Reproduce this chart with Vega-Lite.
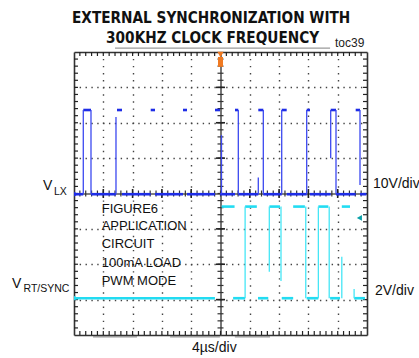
{
  "$schema": "https://vega.github.io/schema/vega-lite/v6.json",
  "width": 293,
  "height": 283,
  "autosize": {"type": "none"},
  "padding": {"left": 74, "top": 52, "right": 52, "bottom": 23},
  "background": "white",
  "config": {
    "view": {"stroke": null},
    "axis": {"labels": false, "title": null, "grid": false, "domain": false, "ticks": false}
  },
  "datasets": {
    "blueH": [
      {"x1": 0, "x2": 1.585, "y": 19.9}, {"x1": 2.9, "x2": 7.165, "y": 19.9}, {"x1": 8.19, "x2": 13.09, "y": 19.9},
      {"x1": 13.825, "x2": 18.6, "y": 19.9}, {"x1": 19.285, "x2": 24.06, "y": 19.9}, {"x1": 24.915, "x2": 27.475, "y": 19.9},
      {"x1": 28.04, "x2": 31.45, "y": 19.9}, {"x1": 32.305, "x2": 35.445, "y": 19.9}, {"x1": 36.295, "x2": 39.71, "y": 19.9},
      {"x1": 40.275, "x2": 43.805, "y": 19.9}, {"x1": 44.71, "x2": 48.07, "y": 19.9}, {"x1": 48.805, "x2": 49.9, "y": 19.9},
      {"x1": 1.585, "x2": 2.9, "y": 31.8}, {"x1": 7.34, "x2": 8.19, "y": 31.8}, {"x1": 13.09, "x2": 13.825, "y": 31.8},
      {"x1": 18.6, "x2": 19.285, "y": 31.8}, {"x1": 24.06, "x2": 24.915, "y": 31.8}, {"x1": 27.475, "x2": 28.04, "y": 31.8},
      {"x1": 31.45, "x2": 32.305, "y": 31.8}, {"x1": 35.445, "x2": 36.295, "y": 31.8}, {"x1": 39.71, "x2": 40.275, "y": 31.8},
      {"x1": 43.805, "x2": 44.71, "y": 31.8}, {"x1": 48.07, "x2": 48.805, "y": 31.8}
    ],
    "blueV": [
      {"x": 1.585, "y1": 19.9, "y2": 31.8}, {"x": 2.9, "y1": 31.8, "y2": 19.9}, {"x": 7.165, "y1": 19.9, "y2": 30.8},
      {"x": 25.17, "y1": 19.9, "y2": 28.25}, {"x": 28.04, "y1": 31.8, "y2": 19.9}, {"x": 31.45, "y1": 19.9, "y2": 22.25},
      {"x": 32.305, "y1": 31.8, "y2": 19.9}, {"x": 35.445, "y1": 19.9, "y2": 31.8}, {"x": 39.71, "y1": 19.9, "y2": 31.8},
      {"x": 43.805, "y1": 25, "y2": 31.8}, {"x": 44.71, "y1": 31.8, "y2": 19.9}, {"x": 48.805, "y1": 31.8, "y2": 21.2}
    ],
    "cyanH": [
      {"x1": 0.15, "x2": 24.05, "y": 5.2}, {"x1": 27.15, "x2": 29.2, "y": 5.2}, {"x1": 31.4, "x2": 33.15, "y": 5.2},
      {"x1": 35.45, "x2": 37.4, "y": 5.2}, {"x1": 39.7, "x2": 41.7, "y": 5.2}, {"x1": 43.7, "x2": 45.4, "y": 5.2},
      {"x1": 47.8, "x2": 49.65, "y": 5.2},
      {"x1": 25.2, "x2": 27.4, "y": 18.15}, {"x1": 29.2, "x2": 31.2, "y": 18.15}, {"x1": 33.35, "x2": 35.15, "y": 18.15},
      {"x1": 37.4, "x2": 39.4, "y": 18.15}, {"x1": 41.7, "x2": 43.4, "y": 18.15}, {"x1": 45.7, "x2": 47.1, "y": 18.15}
    ],
    "cyanV": [
      {"x": 29.2, "y1": 5.2, "y2": 18.15}, {"x": 33.33, "y1": 8.95, "y2": 18.15}, {"x": 35.325, "y1": 18.15, "y2": 7.65},
      {"x": 39.55, "y1": 18.15, "y2": 5.2}, {"x": 41.7, "y1": 5.2, "y2": 18.15}, {"x": 43.55, "y1": 18.15, "y2": 5.2},
      {"x": 45.7, "y1": 5.2, "y2": 11.05}, {"x": 47.8, "y1": 6.5, "y2": 5.2}
    ],
    "xt": [
      {"v": 1}, {"v": 2}, {"v": 3}, {"v": 4}, {"v": 5}, {"v": 6}, {"v": 7}, {"v": 8}, {"v": 9}, {"v": 10},
      {"v": 11}, {"v": 12}, {"v": 13}, {"v": 14}, {"v": 15}, {"v": 16}, {"v": 17}, {"v": 18}, {"v": 19}, {"v": 20},
      {"v": 21}, {"v": 22}, {"v": 23}, {"v": 24}, {"v": 25}, {"v": 26}, {"v": 27}, {"v": 28}, {"v": 29}, {"v": 30},
      {"v": 31}, {"v": 32}, {"v": 33}, {"v": 34}, {"v": 35}, {"v": 36}, {"v": 37}, {"v": 38}, {"v": 39}, {"v": 40},
      {"v": 41}, {"v": 42}, {"v": 43}, {"v": 44}, {"v": 45}, {"v": 46}, {"v": 47}, {"v": 48}, {"v": 49}
    ],
    "yt": [
      {"v": 1}, {"v": 2}, {"v": 3}, {"v": 4}, {"v": 5}, {"v": 6}, {"v": 7}, {"v": 8}, {"v": 9}, {"v": 10},
      {"v": 11}, {"v": 12}, {"v": 13}, {"v": 14}, {"v": 15}, {"v": 16}, {"v": 17}, {"v": 18}, {"v": 19}, {"v": 20},
      {"v": 21}, {"v": 22}, {"v": 23}, {"v": 24}, {"v": 25}, {"v": 26}, {"v": 27}, {"v": 28}, {"v": 29}, {"v": 30},
      {"v": 31}, {"v": 32}, {"v": 33}, {"v": 34}, {"v": 35}, {"v": 36}, {"v": 37}, {"v": 38}, {"v": 39}
    ],
    "xmaj": [{"v": 5}, {"v": 10}, {"v": 15}, {"v": 20}, {"v": 30}, {"v": 35}, {"v": 40}, {"v": 45}],
    "ymaj": [{"v": 5}, {"v": 10}, {"v": 15}, {"v": 25}, {"v": 30}, {"v": 35}],
    "artifacts": [
      {"x1": 7, "x2": 43.7, "y": 40.55},
      {"x1": 3.25, "x2": 10.75, "y": -0.25},
      {"x1": 16.4, "x2": 24.9, "y": -0.25},
      {"x1": 27.45, "x2": 33.45, "y": -0.25}
    ],
    "title": [
      {"x": 23.4, "y": 44.15, "t": "EXTERNAL SYNCHRONIZATION WITH"},
      {"x": 23.65, "y": 41.25, "t": "300KHZ CLOCK FREQUENCY"}
    ],
    "big": [
      {"x": -5.29, "y": 20.5, "t": "V"},
      {"x": -10.58, "y": 6.6, "t": "V"},
      {"x": 51.025, "y": 20.735, "t": "10V/div"},
      {"x": 51.365, "y": 5.655, "t": "2V/div"},
      {"x": 20.135, "y": -2.45, "t": "4µs/div"}
    ],
    "sub": [
      {"x": -3.415, "y": 19.8, "t": "LX"},
      {"x": -8.62, "y": 6.05, "t": "RT/SYNC"}
    ],
    "toc": [{"x": 44.54, "y": 40.65, "t": "toc39"}],
    "note": [
      {"x": 4.725, "y": 17.285, "t": "FIGURE6"},
      {"x": 4.725, "y": 14.84, "t": "APPLICATION"},
      {"x": 4.725, "y": 12.25, "t": "CIRCUIT"},
      {"x": 4.725, "y": 9.65, "t": "100mA LOAD"},
      {"x": 4.725, "y": 7.065, "t": "PWM MODE"}
    ],
    "trig": [{"x": 25, "y": 39.65, "y1": 39.3, "y2": 37.9}],
    "blueMark": [{"x": 0.35, "y": 19.9}],
    "cyanMark": [{"x": 0.35, "y": 5.2}],
    "tealMark": [{"x": 48.7, "y": 16.55}]
  },
  "layer": [
    {
      "data": {"name": "artifacts"},
      "mark": {"type": "rule", "color": "#9a9a9a", "strokeWidth": 1.4},
      "encoding": {
        "x": {"field": "x1", "type": "quantitative", "scale": {"domain": [0, 50], "nice": false, "zero": false},
          "axis": {"orient": "bottom", "grid": true, "gridColor": "#444", "gridWidth": 1.4, "gridDash": [1.4, 5.675], "gridDashOffset": 0.7, "values": [5,10,15,20,30,35,40,45]}},
        "x2": {"field": "x2"},
        "y": {"field": "y", "type": "quantitative", "scale": {"domain": [0, 40], "nice": false, "zero": false},
          "axis": {"orient": "left", "grid": true, "gridColor": "#444", "gridWidth": 1.4, "gridDash": [1.4, 4.46], "gridDashOffset": 0.7, "values": [5,10,15,25,30,35]}}
      }
    },
    {
      "data": {"name": "xt"},
      "mark": {"type": "tick", "orient": "vertical", "size": 4, "thickness": 1.2, "color": "#222", "opacity": 1},
      "encoding": {
        "x": {"field": "v", "type": "quantitative", "axis": null},
        "y": {"datum": 0.28}
      }
    },
    {
      "data": {"name": "xt"},
      "mark": {"type": "tick", "orient": "vertical", "size": 4, "thickness": 1.2, "color": "#222", "opacity": 1},
      "encoding": {
        "x": {"field": "v", "type": "quantitative", "axis": null},
        "y": {"datum": 39.72}
      }
    },
    {
      "data": {"name": "xt"},
      "mark": {"type": "tick", "orient": "vertical", "size": 6, "thickness": 1.2, "color": "#333", "opacity": 1},
      "encoding": {
        "x": {"field": "v", "type": "quantitative", "axis": null},
        "y": {"datum": 20}
      }
    },
    {
      "data": {"name": "xmaj"},
      "mark": {"type": "tick", "orient": "vertical", "size": 9, "thickness": 1.6, "color": "#222", "opacity": 1},
      "encoding": {
        "x": {"field": "v", "type": "quantitative", "axis": null},
        "y": {"datum": 20}
      }
    },
    {
      "data": {"name": "yt"},
      "mark": {"type": "tick", "orient": "horizontal", "size": 4, "thickness": 1.2, "color": "#222", "opacity": 1},
      "encoding": {
        "y": {"field": "v", "type": "quantitative", "axis": null},
        "x": {"datum": 0.34}
      }
    },
    {
      "data": {"name": "yt"},
      "mark": {"type": "tick", "orient": "horizontal", "size": 4, "thickness": 1.2, "color": "#222", "opacity": 1},
      "encoding": {
        "y": {"field": "v", "type": "quantitative", "axis": null},
        "x": {"datum": 49.66}
      }
    },
    {
      "data": {"name": "yt"},
      "mark": {"type": "tick", "orient": "horizontal", "size": 6, "thickness": 1.2, "color": "#333", "opacity": 1},
      "encoding": {
        "y": {"field": "v", "type": "quantitative", "axis": null},
        "x": {"datum": 25}
      }
    },
    {
      "data": {"name": "ymaj"},
      "mark": {"type": "tick", "orient": "horizontal", "size": 9, "thickness": 1.6, "color": "#222", "opacity": 1},
      "encoding": {
        "y": {"field": "v", "type": "quantitative", "axis": null},
        "x": {"datum": 25}
      }
    },
    {
      "data": {"name": "blueH"},
      "mark": {"type": "rule", "color": "#1e2de6", "strokeWidth": 2.6},
      "encoding": {
        "x": {"field": "x1", "type": "quantitative",
          "axis": {"orient": "bottom", "domain": true, "domainColor": "#333", "domainWidth": 1.6}},
        "x2": {"field": "x2"},
        "y": {"field": "y", "type": "quantitative",
          "axis": {"orient": "left", "domain": true, "domainColor": "#333", "domainWidth": 1.6}}
      }
    },
    {
      "data": {"name": "blueV"},
      "mark": {"type": "rule", "color": "#3b48f0", "strokeWidth": 1.3},
      "encoding": {
        "x": {"field": "x", "type": "quantitative",
          "axis": {"orient": "top", "domain": true, "domainColor": "#333", "domainWidth": 1.6}},
        "y": {"field": "y1", "type": "quantitative",
          "axis": {"orient": "right", "domain": true, "domainColor": "#333", "domainWidth": 1.6}},
        "y2": {"field": "y2"}
      }
    },
    {
      "data": {"name": "cyanH"},
      "mark": {"type": "rule", "color": "#22dcf2", "strokeWidth": 2.6},
      "encoding": {
        "x": {"field": "x1", "type": "quantitative",
          "axis": {"orient": "bottom", "offset": -141.5, "domain": true, "domainColor": "#555", "domainWidth": 1.6}},
        "x2": {"field": "x2"},
        "y": {"field": "y", "type": "quantitative",
          "axis": {"orient": "left", "offset": -146.5, "domain": true, "domainColor": "#555", "domainWidth": 1.6}}
      }
    },
    {
      "data": {"name": "cyanV"},
      "mark": {"type": "rule", "color": "#45e6f6", "strokeWidth": 1.3},
      "encoding": {
        "x": {"field": "x", "type": "quantitative", "axis": null},
        "y": {"field": "y1", "type": "quantitative", "axis": null},
        "y2": {"field": "y2"}
      }
    },
    {
      "data": {"name": "trig"},
      "mark": {"type": "rule", "color": "#f07a22", "strokeWidth": 5},
      "encoding": {
        "x": {"field": "x", "type": "quantitative", "axis": null},
        "y": {"field": "y1", "type": "quantitative", "axis": null},
        "y2": {"field": "y2"}
      }
    },
    {
      "data": {"name": "trig"},
      "mark": {"type": "point", "shape": "triangle-down", "filled": true, "color": "#f07a22", "size": 40, "opacity": 1},
      "encoding": {
        "x": {"field": "x", "type": "quantitative", "axis": null},
        "y": {"field": "y", "type": "quantitative", "axis": null}
      }
    },
    {
      "data": {"name": "blueMark"},
      "mark": {"type": "point", "shape": "triangle-right", "filled": true, "color": "#1e2de6", "size": 22, "opacity": 1},
      "encoding": {
        "x": {"field": "x", "type": "quantitative", "axis": null},
        "y": {"field": "y", "type": "quantitative", "axis": null}
      }
    },
    {
      "data": {"name": "cyanMark"},
      "mark": {"type": "point", "shape": "triangle-right", "filled": true, "color": "#22dcf2", "size": 22, "opacity": 1},
      "encoding": {
        "x": {"field": "x", "type": "quantitative", "axis": null},
        "y": {"field": "y", "type": "quantitative", "axis": null}
      }
    },
    {
      "data": {"name": "tealMark"},
      "mark": {"type": "point", "shape": "triangle-left", "filled": true, "color": "#0aa0a8", "size": 35, "opacity": 1},
      "encoding": {
        "x": {"field": "x", "type": "quantitative", "axis": null},
        "y": {"field": "y", "type": "quantitative", "axis": null}
      }
    },
    {
      "data": {"name": "title"},
      "mark": {"type": "text", "font": "Liberation Sans Narrow, DejaVu Sans Condensed, Liberation Sans", "fontWeight": "bold", "fontSize": 15.2, "align": "center", "baseline": "alphabetic", "color": "#111"},
      "encoding": {
        "x": {"field": "x", "type": "quantitative", "axis": null},
        "y": {"field": "y", "type": "quantitative", "axis": null},
        "text": {"field": "t"}
      }
    },
    {
      "data": {"name": "big"},
      "mark": {"type": "text", "font": "Liberation Sans", "fontSize": 14, "align": "left", "baseline": "alphabetic", "color": "#111"},
      "encoding": {
        "x": {"field": "x", "type": "quantitative", "axis": null},
        "y": {"field": "y", "type": "quantitative", "axis": null},
        "text": {"field": "t"}
      }
    },
    {
      "data": {"name": "sub"},
      "mark": {"type": "text", "font": "Liberation Sans", "fontSize": 10.5, "align": "left", "baseline": "alphabetic", "color": "#111"},
      "encoding": {
        "x": {"field": "x", "type": "quantitative", "axis": null},
        "y": {"field": "y", "type": "quantitative", "axis": null},
        "text": {"field": "t"}
      }
    },
    {
      "data": {"name": "toc"},
      "mark": {"type": "text", "font": "Liberation Sans", "fontSize": 12, "align": "left", "baseline": "alphabetic", "color": "#222"},
      "encoding": {
        "x": {"field": "x", "type": "quantitative", "axis": null},
        "y": {"field": "y", "type": "quantitative", "axis": null},
        "text": {"field": "t"}
      }
    },
    {
      "data": {"name": "note"},
      "mark": {"type": "text", "font": "Liberation Sans", "fontSize": 13, "align": "left", "baseline": "alphabetic", "color": "#111"},
      "encoding": {
        "x": {"field": "x", "type": "quantitative", "axis": null},
        "y": {"field": "y", "type": "quantitative", "axis": null},
        "text": {"field": "t"}
      }
    }
  ],
  "resolve": {"axis": {"x": "independent", "y": "independent"}}
}
